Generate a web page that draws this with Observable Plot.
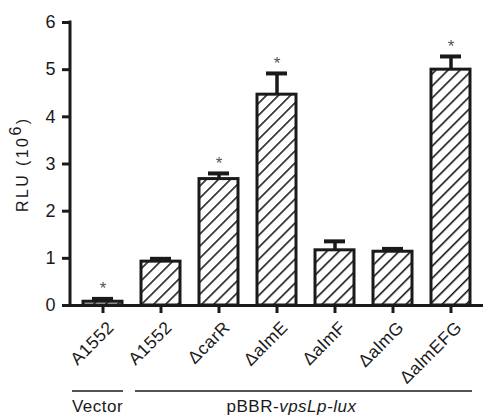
<!DOCTYPE html>
<html>
<head>
<meta charset="utf-8">
<script src="https://cdn.jsdelivr.net/npm/d3@7"></script>
<script src="https://cdn.jsdelivr.net/npm/@observablehq/plot@0.6"></script>
<style>
  html, body { margin: 0; padding: 0; background: #fff; }
  #chart svg { display: block; }
</style>
</head>
<body>
<svg width="0" height="0" style="position:absolute">
  <defs>
    <pattern id="hatch" patternUnits="userSpaceOnUse" width="8.5" height="8.5" patternTransform="rotate(45)">
      <rect width="8.5" height="8.5" fill="#fff"></rect>
      <line x1="0" y1="0" x2="0" y2="8.5" stroke="#1a1a1a" stroke-width="3.2"></line>
    </pattern>
  </defs>
</svg>
<div id="chart"></div>
<script>
// ---- data ----
const categories = ["Vector A1552", "A1552", "ΔcarR", "ΔalmE", "ΔalmF", "ΔalmG", "ΔalmEFG"];
const tickLabels = ["A1552", "A1552", "ΔcarR", "ΔalmE", "ΔalmF", "ΔalmG", "ΔalmEFG"];
const values = [0.08, 0.93, 2.68, 4.47, 1.17, 1.14, 5.00];
const errors = [0.06, 0.06, 0.12, 0.45, 0.19, 0.06, 0.28];
const significant = [true, false, true, true, false, false, true];
const yTicks = [0, 1, 2, 3, 4, 5, 6];
const groups = [
  {label: "Vector", from: 0, to: 0},
  {label: "pBBR-", italic: "vpsLp-lux", from: 1, to: 6}
];

const data = categories.map((c, i) => ({id: c, value: values[i], err: errors[i], top: values[i] + errors[i], sig: significant[i]}));

const font = "Liberation Sans, Arial, sans-serif";
const ink = "#1a1a1a";

const plot = Plot.plot({
  width: 484,
  height: 415,
  marginLeft: 70,
  marginRight: 1,
  marginTop: 22,
  marginBottom: 110,
  style: {fontFamily: font, color: ink, background: "#fff"},
  x: {type: "band", domain: categories, paddingInner: 0.32, paddingOuter: 0.19, axis: null},
  y: {domain: [0, 6], axis: null},
  marks: [
    Plot.barY(data, {x: "id", y: "value", fill: "url(#hatch)", stroke: ink, strokeWidth: 3}),
    Plot.ruleX(data, {x: "id", y1: "value", y2: "top", stroke: ink, strokeWidth: 3.5}),
    Plot.tickY(data, {x: "id", y: "top", stroke: ink, strokeWidth: 4, insetLeft: 9, insetRight: 9}),
    Plot.text(data.filter(d => d.sig), {x: "id", y: "top", text: () => "*", dy: -10, fontSize: 17, fill: "#555"}),
    Plot.ruleY([0], {stroke: ink, strokeWidth: 3}),
    Plot.axisY({ticks: yTicks, tickSize: 8, tickPadding: 7, fontSize: 18, strokeWidth: 3, label: null, stroke: ink,
      tickFormat: d3.format("d")}),
    // tick marks only
    Plot.axisX({tickSize: 8, strokeWidth: 3, label: null, stroke: ink, tickFormat: () => ""}),
    // rotated tick labels
    Plot.axisX({tickSize: 0, tickPadding: 19, dx: 8, tickRotate: -45, fontSize: 17.5, label: null,
      tickFormat: (d) => tickLabels[categories.indexOf(d)]})
  ]
});

document.getElementById("chart").appendChild(plot);

// ---- post-processing using the chart's scales ----
const svg = d3.select(plot);
const xs = plot.scale("x");
const ys = plot.scale("y");
const bw = xs.bandwidth;
const x0 = 70;

svg.selectAll('g[aria-label="x-axis tick label"] text')
  .style("letter-spacing", "0.5px");

// y axis line
svg.append("line")
  .attr("x1", x0).attr("x2", x0)
  .attr("y1", ys.apply(6) - 1.5).attr("y2", ys.apply(0) + 1.5)
  .attr("stroke", ink).attr("stroke-width", 3);

// y axis title with superscript (starts at the bottom, reads upward)
const yt = svg.append("text")
  .attr("transform", `translate(28,${ys.apply(0) - 93}) rotate(-90)`)
  .attr("text-anchor", "start")
  .style("font-size", "16px")
  .attr("font-family", font)
  .style("letter-spacing", "2.4px")
  .attr("fill", ink);
yt.append("tspan").text("RLU (10");
yt.append("tspan").attr("dy", -7).text("6");
yt.append("tspan").attr("dy", 7).text(")");

// group lines and labels
const lineY = ys.apply(0) + 86;
groups.forEach(g => {
  const a = xs.apply(categories[g.from]) - (g.from === 0 ? 11 : 6);
  const b = xs.apply(categories[g.to]) + bw + (g.from === 0 ? 1 : 2);
  svg.append("line").attr("x1", a).attr("x2", b).attr("y1", lineY).attr("y2", lineY)
    .attr("stroke", ink).attr("stroke-width", 1.5);
  const t = svg.append("text")
    .attr("x", g.from === 0 ? (a + b) / 2 : (a + b) / 2 - 12)
    .attr("y", lineY + 21)
    .attr("text-anchor", "middle")
    .style("font-size", "17px")
    .attr("font-family", font)
    .style("letter-spacing", "0.5px")
    .attr("fill", ink);
  t.append("tspan").text(g.label);
  if (g.italic) t.append("tspan").attr("font-style", "italic").text(g.italic);
});
</script>
</body>
</html>
